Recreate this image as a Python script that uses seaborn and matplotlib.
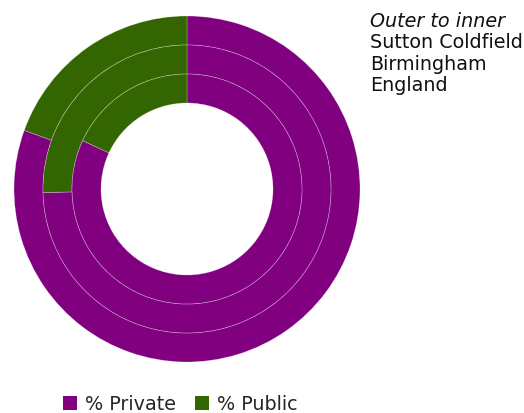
import matplotlib
matplotlib.use("Agg")
import matplotlib.pyplot as plt
import seaborn as sns
from matplotlib.patches import Patch

sns.set_theme(style="white")
plt.rcParams["font.family"] = ["DejaVu Sans"]

# Tenure split by area (percent), rings drawn outer to inner
areas = ["Sutton Coldfield", "Birmingham", "England"]
pct_private = [80.5, 74.6, 81.9]
pct_public = [19.5, 25.4, 18.1]
series_labels = ["% Private", "% Public"]
colors = sns.color_palette(["#800080", "#336600"])

W, H = 524, 414
fig = plt.figure(figsize=(W / 100, H / 100), dpi=100)

cx, cy, R = 187, 190, 173
ax = fig.add_axes([(cx - R) / W, (H - cy - R) / H, 2 * R / W, 2 * R / H])

ring_w = 29 / R
for i, (priv, pub) in enumerate(zip(pct_private, pct_public)):
    ax.pie(
        [priv, pub],
        radius=1 - i * ring_w,
        colors=colors,
        startangle=90,
        counterclock=False,
        wedgeprops=dict(width=ring_w, edgecolor=(1, 1, 1, 0.35), linewidth=0.5),
    )
ax.set_xlim(-1, 1)
ax.set_ylim(-1, 1)
ax.set_aspect("equal")
ax.axis("off")

# Ring key in the top right
fs = 13.8
fig.text(370 / W, 1 - 27 / H, "Outer to inner", style="italic", fontsize=fs,
         va="baseline", ha="left", color="#111111")
for j, name in enumerate(areas):
    fig.text(370 / W, 1 - (48 + j * 21.5) / H, name, fontsize=fs,
             va="baseline", ha="left", color="#111111")

handles = [Patch(facecolor=c, edgecolor="none") for c in colors]
fig.legend(handles, series_labels, loc="center", ncol=2,
           bbox_to_anchor=(180 / W, 1 - 405 / H), frameon=False,
           fontsize=fs, handlelength=0.75, handleheight=0.75,
           handletextpad=0.4, columnspacing=1.0, borderaxespad=0)

fig.savefig("out.png", dpi=100)
